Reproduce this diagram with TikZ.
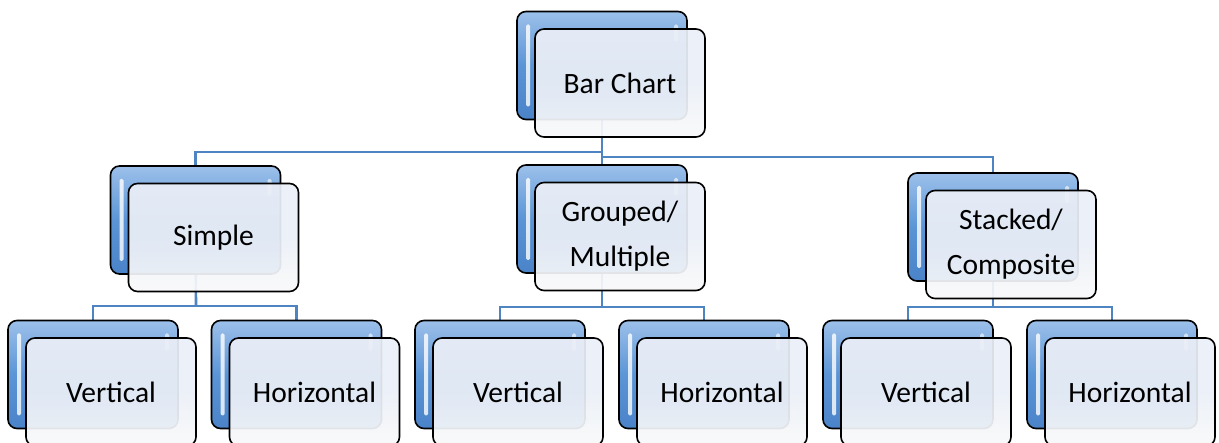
\documentclass[tikz,border=0pt]{standalone}
\usepackage{fontspec}
\setmainfont{Carlito}
\usetikzlibrary{calc}
\pgfdeclarelayer{links}
\pgfsetlayers{links,main}
\definecolor{linkblue}{HTML}{4F84C2}
\definecolor{backtop}{HTML}{9CC0EA}
\definecolor{backmid}{HTML}{5B95D6}
\definecolor{backbot}{HTML}{4A83C8}
\definecolor{fronttop}{HTML}{EBEFF7}
\definecolor{frontbot}{HTML}{F8F9FA}
\begin{document}
\begin{tikzpicture}[x=1pt,y=-1pt,
  link/.style={draw=linkblue,line width=2.6pt},
  backbox/.style={draw=black,line width=1.6pt,rounded corners=9pt,
    minimum width=170pt,minimum height=108pt,inner sep=0pt,
    top color=backtop,bottom color=backbot,middle color=backmid,
    path picture={
      \fill[white,opacity=.8,rounded corners=1.5pt]
        ($(path picture bounding box.north west)+(9,13)$) rectangle
        ($(path picture bounding box.south west)+(13,-13)$);
      \fill[white,opacity=.6,rounded corners=1.5pt]
        ($(path picture bounding box.north east)+(-13,13)$) rectangle
        ($(path picture bounding box.north east)+(-9,30)$);
    }},
  frontbox/.style={draw=black,line width=1.6pt,rounded corners=9pt,
    minimum width=170pt,minimum height=108pt,inner sep=0pt,
    top color=fronttop,bottom color=frontbot,middle color=fronttop,
    fill opacity=.93,text opacity=1,align=center,
    font=\fontsize{29.5}{45}\selectfont,xshift=18pt,yshift=-17.5pt}]
\useasboundingbox (0,0) rectangle (1219,443);
\clip (0,0) rectangle (1219,443);

% back plates of the boxes
\node[backbox] (bar-b) at (602,65.5) {};
\node[backbox] (simple-b) at (195.5,220) {};
\node[backbox] (grouped-b) at (602,219) {};
\node[backbox] (stacked-b) at (993,227) {};
\node[backbox] (v1-b) at (93,374.5) {};
\node[backbox] (h1-b) at (296.5,374.5) {};
\node[backbox] (v2-b) at (500,374.5) {};
\node[backbox] (h2-b) at (704,374.5) {};
\node[backbox] (v3-b) at (908,374.5) {};
\node[backbox] (h3-b) at (1112,374.5) {};

% front cards with the labels
\node[frontbox] (bar) at (bar-b) {Bar Chart};
\node[frontbox] (simple) at (simple-b) {Simple};
\node[frontbox] (grouped) at (grouped-b) {Grouped/\\Multiple};
\node[frontbox] (stacked) at (stacked-b) {Stacked/\\Composite};
\node[frontbox] (v1) at (v1-b) {Vertical};
\node[frontbox] (h1) at (h1-b) {Horizontal};
\node[frontbox] (v2) at (v2-b) {Vertical};
\node[frontbox] (h2) at (h2-b) {Horizontal};
\node[frontbox] (v3) at (v3-b) {Vertical};
\node[frontbox] (h3) at (h3-b) {Horizontal};

% junction points of the connectors
\coordinate (jL) at (602,152);
\coordinate (jR) at (602,157);
\coordinate (jS) at (196,306);
\coordinate (jG) at (602,307);
\coordinate (jC) at (993,307);

% connectors, drawn behind the boxes
\begin{pgfonlayer}{links}
  \draw[link] (simple-b.center) |- (jL) -- (bar-b.center);
  \draw[link] (stacked-b.center) |- (jR);
  \draw[link] (bar-b.center) -- (grouped-b.center);
  \draw[link] (simple-b.center) -- (jS);
  \draw[link] (v1-b.center) |- (jS) -| (h1-b.center);
  \draw[link] (grouped-b.center) -- (jG);
  \draw[link] (v2-b.center) |- (jG) -| (h2-b.center);
  \draw[link] (stacked-b.center) -- (jC);
  \draw[link] (v3-b.center) |- (jC) -| (h3-b.center);
\end{pgfonlayer}
\end{tikzpicture}
\end{document}
